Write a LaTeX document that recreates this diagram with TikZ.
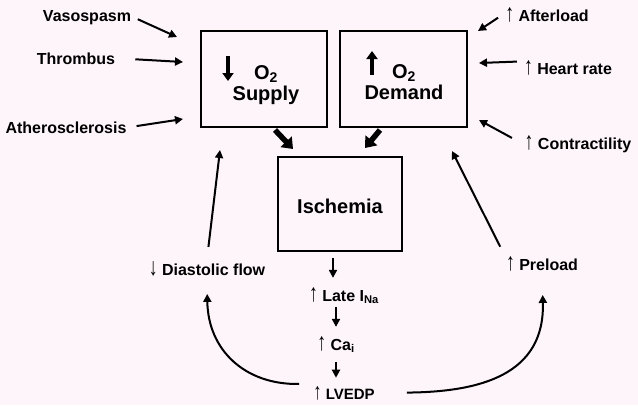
\documentclass[tikz,border=0pt]{standalone}
\usepackage{fontspec}
\setmainfont{Liberation Sans}
\usetikzlibrary{arrows.meta}
\definecolor{bgpink}{RGB}{253,245,249}
\newcommand{\uparr}{\scalebox{1.1}[1.55]{\mdseries ↑}}
\newcommand{\dnarr}{\scalebox{1.1}[1.55]{\mdseries ↓}}

\begin{document}
\begin{tikzpicture}[x=1pt,y=-1pt,
    lbl/.style={font=\bfseries\fontsize{16}{18}\selectfont, inner sep=2pt, anchor=base},
    big/.style={font=\bfseries\fontsize{20}{21}\selectfont, inner sep=0pt, align=center},
    box/.style={draw, line width=2.2pt, minimum width=126pt, minimum height=96pt},
    arr/.style={line width=2pt, -{Triangle[length=8pt,width=8pt]}},
    fat/.style={line width=5.5pt, -{Triangle[length=10pt,width=15pt]}}]
    \fill[bgpink] (0,0) rectangle (638,405);
    % the three boxes
    \node[box] (supply) at (264,79) {};
    \node[box, minimum width=127pt] (demand) at (403.5,79) {};
    \node[box, minimum width=124pt, minimum height=94pt] (isch) at (340,204) {};
    \node[big, anchor=base] (supT) at (266,100) {O\textsubscript{2}\\Supply};
    \node[big, anchor=base] (demT) at (404,99) {O\textsubscript{2}\\Demand};
    \node[big, anchor=base] (ischT) at (340,213) {Ischemia};
    \draw[line width=4pt, -{Triangle[length=8pt,width=11pt]}] (228,56) -- (228,81);
    \draw[line width=4pt, -{Triangle[length=8pt,width=11pt]}] (372,75) -- (372,51);
    % causes
    \node[lbl] (vaso) at (87,21) {Vasospasm};
    \node[lbl] (thromb) at (76,64) {Thrombus};
    \node[lbl] (athero) at (66,133) {Atherosclerosis};
    \node[lbl] (after) at (547,21) {\uparr\ Afterload};
    \node[lbl] (hr) at (568,74) {\uparr\ Heart rate};
    \node[lbl] (contr) at (578,149) {\uparr\ Contractility};
    \node[lbl] (dia) at (207,275) {\dnarr\ Diastolic flow};
    \node[lbl] (pre) at (542,270) {\uparr\ Preload};
    \node[lbl] (late) at (344,301) {\uparr\ Late I\textsubscript{Na}};
    \node[lbl] (cai) at (336,350) {\uparr\ Ca\textsubscript{i}};
    \node[lbl, font=\bfseries\fontsize{15}{17}\selectfont] (lvedp) at (344,399) {\uparr\ LVEDP};
    \coordinate (vasoTip) at (177,37);
    \coordinate (thrombTip) at (183,62);
    \coordinate (atheroTip) at (183,119);
    \coordinate (afterTip) at (478,31);
    \coordinate (hrTip) at (479,63);
    \coordinate (contrTip) at (479,120);
    \coordinate (diaTip) at (220,150);
    \coordinate (preTip) at (452,151);
    \coordinate (supOut) at (275,130);
    \coordinate (demOut) at (380,130);
    \coordinate (ischInL) at (293,149);
    \coordinate (ischInR) at (365,148);
    \draw[arr, shorten <=5pt] (vaso.east) -- (vasoTip);
    \draw[arr, shorten <=18pt] (thromb.east) -- (thrombTip);
    \draw[arr, shorten <=8pt] (athero.east) -- (atheroTip);
    \draw[arr, shorten <=6pt] (after.west) -- (afterTip);
    \draw[arr, shorten <=5pt] ([yshift=6pt]hr.west) -- (hrTip);
    \draw[arr, shorten <=12pt] (contr.west) -- (contrTip);
    \draw[fat] (supOut) -- (ischInL);
    \draw[fat] (demOut) -- (ischInR);
    \draw[arr, shorten <=12pt] (dia.north) -- (diaTip);
    \draw[arr, shorten <=8pt] (pre.north west) -- (preTip);
    % chain below ischemia
    \draw[arr, shorten <=6pt, shorten >=7pt] ([xshift=-7pt]isch.south) -- ([xshift=-7pt]isch.south |- late.north);
    \draw[arr, shorten <=1pt, shorten >=7pt] (cai.north |- late.south) -- (cai.north);
    \draw[arr, shorten <=7pt, shorten >=6pt] (cai.south) -- (cai.south |- lvedp.north);
    \draw[arr, shorten <=12pt, shorten >=16pt] (lvedp.north west) .. controls (245,385) and (208,350) .. (dia.south);
    \draw[arr, shorten <=30pt, shorten >=22pt] (lvedp.east) .. controls (480,392) and (545,375) .. (pre.south);
\end{tikzpicture}
\end{document}
